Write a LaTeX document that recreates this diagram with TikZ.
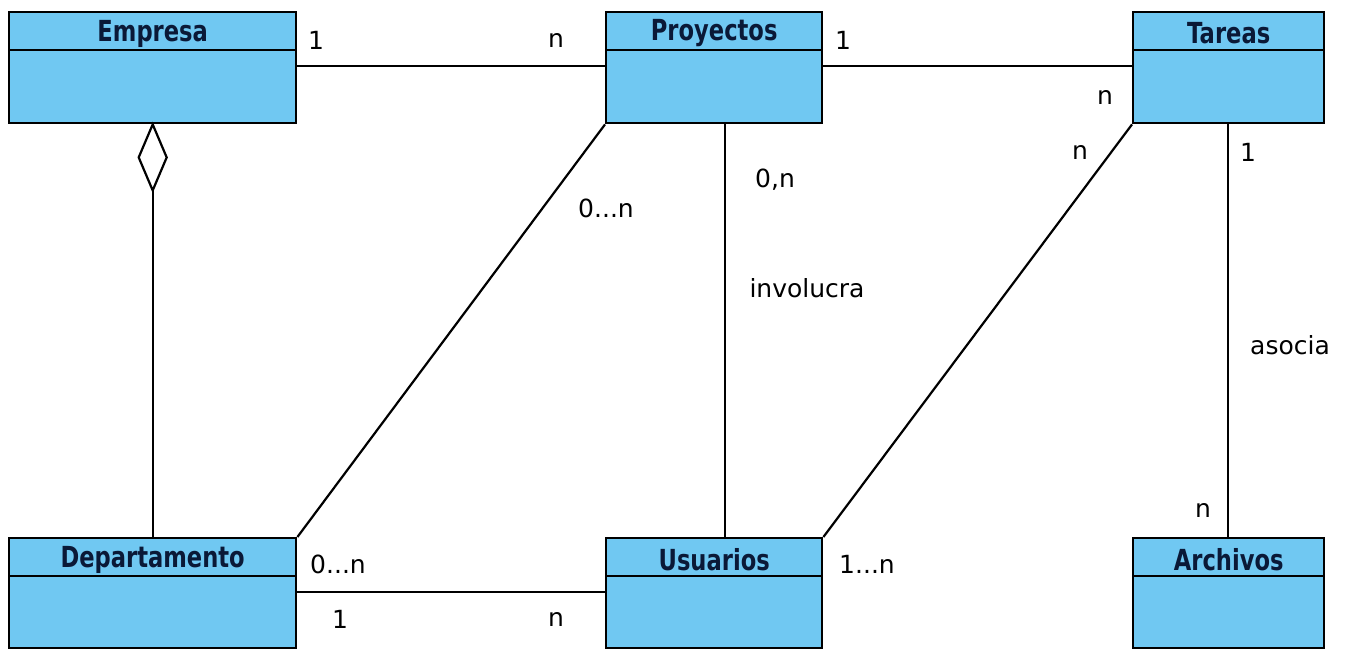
\documentclass[tikz,border=0pt]{standalone}
\usepackage{fontspec}
\setmainfont{DejaVu Sans}
\definecolor{boxfill}{RGB}{112,200,242}
\definecolor{titlecol}{RGB}{10,25,55}
\tikzset{
  classbox/.style={draw=black, line width=2.4pt, fill=boxfill, rectangle, inner sep=0pt, anchor=north west},
  classtitle/.style={font=\fontsize{29}{29}\selectfont\bfseries, text=titlecol, inner sep=0pt, anchor=center},
  conn/.style={draw=black, line width=2.2pt},
  lbl/.style={font=\fontsize{25}{25}\selectfont, inner sep=0pt, anchor=center}
}
\newcommand{\umlclass}[6]{% name, x, y, w, h, title
  \node[classbox, minimum width=#4pt, minimum height=#5pt] (#1) at (#2,#3) {};
  \draw[line width=2.4pt] ([yshift=-39pt]#1.north west) -- ([yshift=-39pt]#1.north east);
  \node[classtitle] (#1t) at ([yshift=-22.5pt]#1.north) {\scalebox{0.78}[1]{#6}};
}
\begin{document}
\begin{tikzpicture}[x=1pt,y=-1pt]
\useasboundingbox[fill=white] (0,0) rectangle (1346,648);
\umlclass{emp}{8}{11}{287}{111}{Empresa}
\umlclass{pro}{605}{11}{216}{111}{Proyectos}
\umlclass{tar}{1132}{11}{191}{111}{Tareas}
\umlclass{dep}{8}{537}{287}{110}{Departamento}
\umlclass{usu}{605}{537}{216}{110}{Usuarios}
\umlclass{arc}{1132}{537}{191}{110}{Archivos}

% Empresa -- Proyectos
\draw[conn] (emp.east |- 0,66) -- (pro.west |- 0,66);
\node[lbl] (l1) at (316,40) {1};
\node[lbl] (l2) at (556,40) {n};
% Proyectos -- Tareas
\draw[conn] (pro.east |- 0,66) -- (tar.west |- 0,66);
\node[lbl] (l3) at (843,40) {1};
\node[lbl] (l4) at (1105,97) {n};
% aggregation
\coordinate (dtop) at (emp.south);
\coordinate (dbot) at ([yshift=-66pt]emp.south);
\draw[conn, fill=white, line join=miter] (dtop) -- ([xshift=14pt,yshift=-33pt]emp.south) -- (dbot) -- ([xshift=-14pt,yshift=-33pt]emp.south) -- cycle;
\draw[conn] (dbot) -- (dep.north);
% Proyectos -- Departamento
\draw[conn] (pro.south west) -- (dep.north east);
\node[lbl] (l5) at (606,208) {0...n};
\node[lbl] (l6) at (338,564) {0...n};
% Proyectos -- Usuarios
\draw[conn] (pro.south -| 725,0) -- (usu.north -| 725,0);
\node[lbl] (l7) at (775,180) {0,n};
\node[lbl] (l8) at (807,288) {involucra};
% Tareas -- Usuarios
\draw[conn] (tar.south west) -- (usu.north east);
\node[lbl] (l9) at (1080,152) {n};
\node[lbl] (l10) at (867,564) {1...n};
% Tareas -- Archivos
\draw[conn] (tar.south -| 1228,0) -- (arc.north -| 1228,0);
\node[lbl] (l11) at (1248,152) {1};
\node[lbl] (l12) at (1290,345) {asocia};
\node[lbl] (l13) at (1203,510) {n};
% Departamento -- Usuarios
\draw[conn] (dep.east |- 0,592) -- (usu.west |- 0,592);
\node[lbl] (l14) at (340,619) {1};
\node[lbl] (l15) at (556,619) {n};
\end{tikzpicture}
\end{document}
